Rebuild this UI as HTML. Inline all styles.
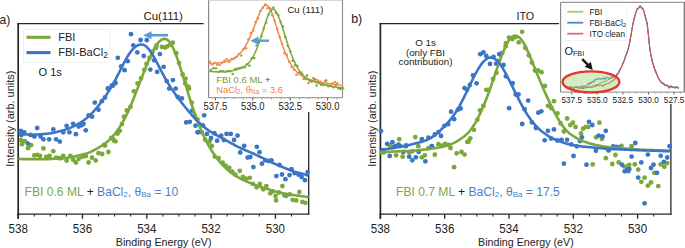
<!DOCTYPE html><html><head><meta charset="utf-8"><title>XPS O 1s</title><style>html,body{margin:0;padding:0;background:#fff;overflow:hidden;}svg{display:block;font-family:"Liberation Sans",sans-serif;}text{font-family:"Liberation Sans",sans-serif;}</style></head><body>
<svg width="685" height="248" viewBox="0 0 685 248" font-family="Liberation Sans, sans-serif">
<rect width="685" height="248" fill="#fff"/>
<line x1="18.2" y1="23" x2="18.2" y2="218.8" stroke="#262626" stroke-width="1.7"/>
<line x1="17.4" y1="23.6" x2="203.6" y2="23.6" stroke="#262626" stroke-width="1.3"/>
<line x1="17.4" y1="214.2" x2="309.3" y2="214.2" stroke="#262626" stroke-width="1.3"/>
<line x1="308.7" y1="112.0" x2="308.7" y2="214.8" stroke="#262626" stroke-width="1.3"/>
<line x1="18.2" y1="214" x2="18.2" y2="218.8" stroke="#262626" stroke-width="1.3"/>
<text x="18.2" y="233.2" font-size="12.50" fill="#222" text-anchor="middle" textLength="19.3" lengthAdjust="spacingAndGlyphs">538</text>
<line x1="34.3" y1="214" x2="34.3" y2="216.6" stroke="#262626" stroke-width="1"/>
<line x1="50.3" y1="214" x2="50.3" y2="216.6" stroke="#262626" stroke-width="1"/>
<line x1="66.4" y1="214" x2="66.4" y2="216.6" stroke="#262626" stroke-width="1"/>
<line x1="82.5" y1="214" x2="82.5" y2="218.8" stroke="#262626" stroke-width="1.3"/>
<text x="82.5" y="233.2" font-size="12.50" fill="#222" text-anchor="middle" textLength="19.3" lengthAdjust="spacingAndGlyphs">536</text>
<line x1="98.6" y1="214" x2="98.6" y2="216.6" stroke="#262626" stroke-width="1"/>
<line x1="114.6" y1="214" x2="114.6" y2="216.6" stroke="#262626" stroke-width="1"/>
<line x1="130.7" y1="214" x2="130.7" y2="216.6" stroke="#262626" stroke-width="1"/>
<line x1="146.8" y1="214" x2="146.8" y2="218.8" stroke="#262626" stroke-width="1.3"/>
<text x="146.8" y="233.2" font-size="12.50" fill="#222" text-anchor="middle" textLength="19.3" lengthAdjust="spacingAndGlyphs">534</text>
<line x1="162.9" y1="214" x2="162.9" y2="216.6" stroke="#262626" stroke-width="1"/>
<line x1="178.9" y1="214" x2="178.9" y2="216.6" stroke="#262626" stroke-width="1"/>
<line x1="195.0" y1="214" x2="195.0" y2="216.6" stroke="#262626" stroke-width="1"/>
<line x1="211.1" y1="214" x2="211.1" y2="218.8" stroke="#262626" stroke-width="1.3"/>
<text x="211.1" y="233.2" font-size="12.50" fill="#222" text-anchor="middle" textLength="19.3" lengthAdjust="spacingAndGlyphs">532</text>
<line x1="227.2" y1="214" x2="227.2" y2="216.6" stroke="#262626" stroke-width="1"/>
<line x1="243.2" y1="214" x2="243.2" y2="216.6" stroke="#262626" stroke-width="1"/>
<line x1="259.3" y1="214" x2="259.3" y2="216.6" stroke="#262626" stroke-width="1"/>
<line x1="275.4" y1="214" x2="275.4" y2="218.8" stroke="#262626" stroke-width="1.3"/>
<text x="275.4" y="233.2" font-size="12.50" fill="#222" text-anchor="middle" textLength="19.3" lengthAdjust="spacingAndGlyphs">530</text>
<line x1="291.5" y1="214" x2="291.5" y2="216.6" stroke="#262626" stroke-width="1"/>
<text x="163.7" y="245.5" font-size="10.70" fill="#222" text-anchor="middle">Binding Energy (eV)</text>
<text x="0" y="0" font-size="10.95" fill="#222" text-anchor="middle" transform="translate(13.6,118.7) rotate(-90)">Intensity (arb. units)</text>
<text x="-0.6" y="23.5" font-size="12.20" fill="#222" text-anchor="start">a)</text>
<text x="163.2" y="20.2" font-size="11.40" fill="#222" text-anchor="middle">Cu(111)</text>
<rect x="23.5" y="29" width="86.5" height="33.4" fill="#fff" stroke="#ececec" stroke-width="0.8" rx="1"/>
<line x1="26.5" y1="37.3" x2="50.5" y2="37.3" stroke="#7aa83a" stroke-width="3.1"/>
<line x1="26.5" y1="52.6" x2="50.5" y2="52.6" stroke="#3b75c6" stroke-width="3.1"/>
<text x="58.2" y="41.2" font-size="11.10" fill="#222" text-anchor="start">FBI</text>
<text x="58.2" y="56.2" font-size="11.10" fill="#222" text-anchor="start">FBI-BaCl<tspan font-size="8.4" dy="1.8">2</tspan></text>
<text x="38.6" y="75.8" font-size="11.00" fill="#222" text-anchor="start">O 1s</text>
<g fill="#7aa83a"><circle cx="61.1" cy="158.2" r="2.40"/><circle cx="121.9" cy="124.1" r="2.40"/><circle cx="141.1" cy="78.2" r="2.40"/><circle cx="144.3" cy="69.8" r="2.40"/><circle cx="201.9" cy="132.4" r="2.40"/><circle cx="205.1" cy="139.6" r="2.40"/><circle cx="156.5" cy="45.7" r="2.40"/><circle cx="155.9" cy="48.1" r="2.40"/><circle cx="161.9" cy="46.9" r="2.40"/><circle cx="165.0" cy="47.5" r="2.40"/><circle cx="167.4" cy="46.3" r="2.40"/><circle cx="170.4" cy="44.5" r="2.40"/><circle cx="152.5" cy="52.0" r="2.40"/><circle cx="149.5" cy="58.0" r="2.40"/><circle cx="146.5" cy="64.0" r="2.40"/><circle cx="21.0" cy="140.2" r="2.40"/><circle cx="25.0" cy="141.2" r="2.40"/><circle cx="22.0" cy="144.2" r="2.40"/><circle cx="28.0" cy="148.2" r="2.40"/><circle cx="31.1" cy="145.2" r="2.40"/><circle cx="34.4" cy="155.4" r="2.40"/><circle cx="37.2" cy="154.9" r="2.40"/><circle cx="40.0" cy="156.0" r="2.40"/><circle cx="43.4" cy="148.4" r="2.40"/><circle cx="46.2" cy="156.8" r="2.40"/><circle cx="49.6" cy="156.0" r="2.40"/><circle cx="53.3" cy="151.2" r="2.40"/><circle cx="56.1" cy="157.7" r="2.40"/><circle cx="59.0" cy="158.2" r="2.40"/><circle cx="63.2" cy="156.0" r="2.40"/><circle cx="66.6" cy="160.5" r="2.40"/><circle cx="70.3" cy="156.0" r="2.40"/><circle cx="73.1" cy="159.7" r="2.40"/><circle cx="75.9" cy="162.5" r="2.40"/><circle cx="78.7" cy="158.8" r="2.40"/><circle cx="82.4" cy="156.8" r="2.40"/><circle cx="85.8" cy="156.0" r="2.40"/><circle cx="88.6" cy="162.5" r="2.40"/><circle cx="92.0" cy="157.7" r="2.40"/><circle cx="95.7" cy="160.5" r="2.40"/><circle cx="98.5" cy="153.2" r="2.40"/><circle cx="102.2" cy="154.0" r="2.40"/><circle cx="105.0" cy="145.5" r="2.40"/><circle cx="108.4" cy="152.0" r="2.40"/><circle cx="112.6" cy="138.5" r="2.40"/><circle cx="115.5" cy="141.3" r="2.40"/><circle cx="137.6" cy="83.4" r="2.40"/><circle cx="133.9" cy="91.3" r="2.40"/><circle cx="130.5" cy="106.8" r="2.40"/><circle cx="126.8" cy="110.5" r="2.40"/><circle cx="124.0" cy="116.7" r="2.40"/><circle cx="119.8" cy="130.8" r="2.40"/><circle cx="117.5" cy="133.7" r="2.40"/><circle cx="111.3" cy="137.9" r="2.40"/><circle cx="114.1" cy="140.7" r="2.40"/><circle cx="104.2" cy="145.0" r="2.40"/><circle cx="185.3" cy="83.4" r="2.40"/><circle cx="189.0" cy="88.5" r="2.40"/><circle cx="191.8" cy="102.6" r="2.40"/><circle cx="194.6" cy="115.3" r="2.40"/><circle cx="197.5" cy="119.5" r="2.40"/><circle cx="172.8" cy="42.7" r="2.40"/><circle cx="176.2" cy="53.2" r="2.40"/><circle cx="179.0" cy="63.1" r="2.40"/><circle cx="182.7" cy="74.4" r="2.40"/><circle cx="185.5" cy="78.7" r="2.40"/><circle cx="188.4" cy="86.6" r="2.40"/><circle cx="209.6" cy="141.5" r="2.40"/><circle cx="211.8" cy="146.0" r="2.40"/><circle cx="214.8" cy="156.6" r="2.40"/><circle cx="218.7" cy="158.1" r="2.40"/><circle cx="222.6" cy="162.7" r="2.40"/><circle cx="225.6" cy="165.7" r="2.40"/><circle cx="229.3" cy="167.8" r="2.40"/><circle cx="232.3" cy="171.7" r="2.40"/><circle cx="235.3" cy="174.7" r="2.40"/><circle cx="239.8" cy="170.8" r="2.40"/><circle cx="242.9" cy="176.9" r="2.40"/><circle cx="245.9" cy="178.7" r="2.40"/><circle cx="249.8" cy="177.8" r="2.40"/><circle cx="252.8" cy="183.8" r="2.40"/><circle cx="286.1" cy="195.9" r="2.40"/><circle cx="289.7" cy="194.4" r="2.40"/><circle cx="292.7" cy="199.8" r="2.40"/><circle cx="296.3" cy="200.4" r="2.40"/><circle cx="299.4" cy="192.0" r="2.40"/><circle cx="302.4" cy="201.9" r="2.40"/><circle cx="305.4" cy="202.8" r="2.40"/><circle cx="259.8" cy="184.0" r="2.40"/><circle cx="266.3" cy="186.1" r="2.40"/><circle cx="256.6" cy="187.3" r="2.40"/><circle cx="263.1" cy="189.3" r="2.40"/><circle cx="270.3" cy="193.3" r="2.40"/><circle cx="272.7" cy="191.3" r="2.40"/><circle cx="278.8" cy="192.5" r="2.40"/><circle cx="282.4" cy="186.1" r="2.40"/><circle cx="284.4" cy="195.3" r="2.40"/><circle cx="275.6" cy="196.0" r="2.40"/><circle cx="276.1" cy="200.4" r="2.40"/></g>
<g fill="#3b75c6"><circle cx="157.1" cy="71.9" r="2.40"/><circle cx="166.7" cy="81.1" r="2.40"/><circle cx="192.3" cy="110.6" r="2.40"/><circle cx="195.5" cy="125.7" r="2.40"/><circle cx="259.5" cy="152.2" r="2.40"/><circle cx="291.5" cy="169.2" r="2.40"/><circle cx="131.0" cy="34.2" r="2.40"/><circle cx="140.6" cy="40.0" r="2.40"/><circle cx="146.8" cy="40.2" r="2.40"/><circle cx="133.3" cy="45.3" r="2.40"/><circle cx="137.3" cy="52.4" r="2.40"/><circle cx="143.8" cy="56.0" r="2.40"/><circle cx="117.8" cy="57.8" r="2.40"/><circle cx="127.7" cy="61.2" r="2.40"/><circle cx="121.2" cy="66.5" r="2.40"/><circle cx="124.6" cy="70.2" r="2.40"/><circle cx="159.9" cy="54.1" r="2.40"/><circle cx="154.2" cy="60.3" r="2.40"/><circle cx="163.6" cy="66.8" r="2.40"/><circle cx="150.3" cy="69.6" r="2.40"/><circle cx="115.5" cy="82.9" r="2.40"/><circle cx="112.7" cy="85.7" r="2.40"/><circle cx="108.5" cy="88.6" r="2.40"/><circle cx="172.9" cy="80.1" r="2.40"/><circle cx="169.2" cy="88.6" r="2.40"/><circle cx="175.7" cy="88.6" r="2.40"/><circle cx="20.8" cy="130.8" r="2.40"/><circle cx="24.2" cy="132.3" r="2.40"/><circle cx="21.4" cy="135.0" r="2.40"/><circle cx="30.7" cy="135.0" r="2.40"/><circle cx="37.2" cy="128.0" r="2.40"/><circle cx="34.4" cy="136.5" r="2.40"/><circle cx="40.6" cy="136.5" r="2.40"/><circle cx="43.4" cy="139.3" r="2.40"/><circle cx="27.9" cy="143.6" r="2.40"/><circle cx="49.1" cy="139.3" r="2.40"/><circle cx="53.3" cy="129.4" r="2.40"/><circle cx="56.1" cy="139.3" r="2.40"/><circle cx="59.8" cy="141.6" r="2.40"/><circle cx="63.2" cy="132.3" r="2.40"/><circle cx="66.6" cy="125.8" r="2.40"/><circle cx="69.4" cy="132.3" r="2.40"/><circle cx="73.1" cy="123.8" r="2.40"/><circle cx="75.9" cy="134.2" r="2.40"/><circle cx="78.7" cy="126.6" r="2.40"/><circle cx="81.6" cy="125.2" r="2.40"/><circle cx="85.8" cy="130.3" r="2.40"/><circle cx="83.5" cy="123.8" r="2.40"/><circle cx="88.6" cy="115.3" r="2.40"/><circle cx="92.0" cy="116.7" r="2.40"/><circle cx="94.8" cy="102.6" r="2.40"/><circle cx="98.5" cy="109.7" r="2.40"/><circle cx="101.9" cy="101.2" r="2.40"/><circle cx="105.0" cy="97.5" r="2.40"/><circle cx="107.8" cy="88.5" r="2.40"/><circle cx="111.8" cy="85.6" r="2.40"/><circle cx="114.9" cy="83.4" r="2.40"/><circle cx="177.7" cy="97.0" r="2.40"/><circle cx="181.9" cy="98.4" r="2.40"/><circle cx="186.2" cy="122.4" r="2.40"/><circle cx="189.8" cy="121.8" r="2.40"/><circle cx="197.5" cy="132.3" r="2.40"/><circle cx="204.2" cy="115.3" r="2.40"/><circle cx="198.5" cy="132.2" r="2.40"/><circle cx="202.9" cy="125.4" r="2.40"/><circle cx="207.0" cy="133.9" r="2.40"/><circle cx="211.0" cy="138.0" r="2.40"/><circle cx="214.4" cy="133.2" r="2.40"/><circle cx="217.1" cy="140.7" r="2.40"/><circle cx="221.2" cy="135.6" r="2.40"/><circle cx="223.9" cy="140.0" r="2.40"/><circle cx="226.6" cy="133.9" r="2.40"/><circle cx="230.7" cy="133.9" r="2.40"/><circle cx="234.1" cy="140.0" r="2.40"/><circle cx="237.5" cy="135.6" r="2.40"/><circle cx="240.2" cy="152.5" r="2.40"/><circle cx="244.2" cy="145.8" r="2.40"/><circle cx="247.6" cy="157.6" r="2.40"/><circle cx="250.3" cy="157.0" r="2.40"/><circle cx="253.4" cy="167.1" r="2.40"/><circle cx="256.8" cy="146.8" r="2.40"/><circle cx="261.9" cy="163.7" r="2.40"/><circle cx="265.3" cy="160.3" r="2.40"/><circle cx="268.6" cy="161.0" r="2.40"/><circle cx="271.4" cy="160.3" r="2.40"/><circle cx="276.4" cy="176.1" r="2.40"/><circle cx="282.0" cy="174.5" r="2.40"/><circle cx="285.4" cy="179.2" r="2.40"/><circle cx="289.5" cy="175.1" r="2.40"/><circle cx="294.5" cy="173.1" r="2.40"/><circle cx="298.5" cy="174.5" r="2.40"/><circle cx="301.6" cy="177.1" r="2.40"/><circle cx="305.0" cy="180.2" r="2.40"/><circle cx="307.6" cy="172.1" r="2.40"/><circle cx="279.4" cy="165.0" r="2.40"/></g>
<path d="M18.50,158.96 L19.50,159.00 L20.50,159.04 L21.50,159.07 L22.50,159.09 L23.50,159.11 L24.50,159.13 L25.50,159.13 L26.50,159.13 L27.50,159.12 L28.50,159.12 L29.50,159.11 L30.50,159.11 L31.50,159.11 L32.50,159.12 L33.50,159.13 L34.50,159.15 L35.50,159.17 L36.50,159.18 L37.50,159.20 L38.50,159.21 L39.50,159.22 L40.50,159.22 L41.50,159.22 L42.50,159.22 L43.50,159.21 L44.50,159.20 L45.50,159.19 L46.50,159.16 L47.50,159.12 L48.50,159.08 L49.50,159.03 L50.50,158.97 L51.50,158.90 L52.50,158.84 L53.50,158.78 L54.50,158.73 L55.50,158.67 L56.50,158.61 L57.50,158.56 L58.50,158.50 L59.50,158.44 L60.50,158.37 L61.50,158.30 L62.50,158.23 L63.50,158.15 L64.50,158.06 L65.50,157.96 L66.50,157.85 L67.50,157.73 L68.50,157.58 L69.50,157.41 L70.50,157.23 L71.50,157.03 L72.50,156.82 L73.50,156.61 L74.50,156.40 L75.50,156.19 L76.50,155.98 L77.50,155.77 L78.50,155.55 L79.50,155.32 L80.50,155.09 L81.50,154.84 L82.50,154.59 L83.50,154.33 L84.50,154.05 L85.50,153.76 L86.50,153.45 L87.50,153.12 L88.50,152.76 L89.50,152.37 L90.50,151.95 L91.50,151.49 L92.50,151.00 L93.50,150.50 L94.50,149.97 L95.50,149.43 L96.50,148.87 L97.50,148.30 L98.50,147.72 L99.50,147.12 L100.50,146.51 L101.50,145.88 L102.50,145.24 L103.50,144.57 L104.50,143.87 L105.50,143.14 L106.50,142.36 L107.50,141.54 L108.50,140.66 L109.50,139.73 L110.50,138.74 L111.50,137.69 L112.50,136.59 L113.50,135.43 L114.50,134.23 L115.50,132.97 L116.50,131.65 L117.50,130.29 L118.50,128.86 L119.50,127.38 L120.50,125.83 L121.50,124.21 L122.50,122.52 L123.50,120.75 L124.50,118.90 L125.50,116.97 L126.50,114.95 L127.50,112.85 L128.50,110.66 L129.50,108.40 L130.50,106.07 L131.50,103.67 L132.50,101.22 L133.50,98.73 L134.50,96.20 L135.50,93.65 L136.50,91.09 L137.50,88.52 L138.50,85.94 L139.50,83.36 L140.50,80.79 L141.50,78.22 L142.50,75.66 L143.50,73.11 L144.50,70.59 L145.50,68.08 L146.50,65.61 L147.50,63.18 L148.50,60.79 L149.50,58.47 L150.50,56.21 L151.50,54.04 L152.50,51.97 L153.50,50.02 L154.50,48.18 L155.50,46.49 L156.50,44.95 L157.50,43.57 L158.50,42.35 L159.50,41.31 L160.50,40.46 L161.50,39.79 L162.50,39.30 L163.50,39.01 L164.50,38.91 L165.50,39.01 L166.50,39.35 L167.50,39.96 L168.50,40.82 L169.50,41.94 L170.50,43.32 L171.50,44.94 L172.50,46.80 L173.50,48.89 L174.50,51.18 L175.50,53.66 L176.50,56.31 L177.50,59.11 L178.50,62.04 L179.50,65.07 L180.50,68.19 L181.50,71.38 L182.50,74.62 L183.50,77.90 L184.50,81.20 L185.50,84.51 L186.50,87.82 L187.50,91.11 L188.50,94.38 L189.50,97.61 L190.50,100.79 L191.50,103.92 L192.50,106.99 L193.50,109.98 L194.50,112.91 L195.50,115.75 L196.50,118.52 L197.50,121.20 L198.50,123.80 L199.50,126.31 L200.50,128.74 L201.50,131.09 L202.50,133.36 L203.50,135.55 L204.50,137.66 L205.50,139.70 L206.50,141.66 L207.50,143.55 L208.50,145.36 L209.50,147.11 L210.50,148.79 L211.50,150.41 L212.50,151.97 L213.50,153.48 L214.50,154.93 L215.50,156.33 L216.50,157.68 L217.50,158.98 L218.50,160.24 L219.50,161.45 L220.50,162.63 L221.50,163.76 L222.50,164.84 L223.50,165.89 L224.50,166.89 L225.50,167.86 L226.50,168.79 L227.50,169.68 L228.50,170.54 L229.50,171.37 L230.50,172.16 L231.50,172.92 L232.50,173.66 L233.50,174.36 L234.50,175.03 L235.50,175.68 L236.50,176.30 L237.50,176.89 L238.50,177.47 L239.50,178.02 L240.50,178.56 L241.50,179.08 L242.50,179.58 L243.50,180.06 L244.50,180.53 L245.50,180.99 L246.50,181.44 L247.50,181.87 L248.50,182.30 L249.50,182.72 L250.50,183.14 L251.50,183.55 L252.50,183.96 L253.50,184.35 L254.50,184.74 L255.50,185.13 L256.50,185.50 L257.50,185.86 L258.50,186.21 L259.50,186.55 L260.50,186.87 L261.50,187.19 L262.50,187.50 L263.50,187.80 L264.50,188.10 L265.50,188.39 L266.50,188.69 L267.50,188.98 L268.50,189.29 L269.50,189.60 L270.50,189.92 L271.50,190.24 L272.50,190.56 L273.50,190.86 L274.50,191.16 L275.50,191.44 L276.50,191.70 L277.50,191.96 L278.50,192.21 L279.50,192.44 L280.50,192.67 L281.50,192.88 L282.50,193.09 L283.50,193.29 L284.50,193.48 L285.50,193.66 L286.50,193.83 L287.50,193.99 L288.50,194.16 L289.50,194.32 L290.50,194.49 L291.50,194.66 L292.50,194.83 L293.50,195.00 L294.50,195.18 L295.50,195.34 L296.50,195.51 L297.50,195.66 L298.50,195.81 L299.50,195.95 L300.50,196.08 L301.50,196.20 L302.50,196.32 L303.50,196.45 L304.50,196.58 L305.50,196.71 L306.50,196.85 L307.50,197.00 L308.50,197.16" fill="none" stroke="#7aa83a" stroke-width="2.6" stroke-linejoin="round"/>
<path d="M18.50,134.09 L19.50,134.18 L20.50,134.26 L21.50,134.33 L22.50,134.39 L23.50,134.43 L24.50,134.47 L25.50,134.51 L26.50,134.54 L27.50,134.57 L28.50,134.60 L29.50,134.63 L30.50,134.66 L31.50,134.67 L32.50,134.68 L33.50,134.68 L34.50,134.66 L35.50,134.63 L36.50,134.57 L37.50,134.51 L38.50,134.44 L39.50,134.36 L40.50,134.28 L41.50,134.20 L42.50,134.13 L43.50,134.05 L44.50,133.98 L45.50,133.89 L46.50,133.80 L47.50,133.70 L48.50,133.58 L49.50,133.44 L50.50,133.29 L51.50,133.12 L52.50,132.93 L53.50,132.72 L54.50,132.51 L55.50,132.28 L56.50,132.05 L57.50,131.81 L58.50,131.57 L59.50,131.33 L60.50,131.07 L61.50,130.81 L62.50,130.54 L63.50,130.25 L64.50,129.95 L65.50,129.63 L66.50,129.30 L67.50,128.94 L68.50,128.57 L69.50,128.17 L70.50,127.76 L71.50,127.32 L72.50,126.87 L73.50,126.39 L74.50,125.90 L75.50,125.39 L76.50,124.87 L77.50,124.32 L78.50,123.75 L79.50,123.16 L80.50,122.55 L81.50,121.91 L82.50,121.23 L83.50,120.53 L84.50,119.79 L85.50,119.02 L86.50,118.22 L87.50,117.37 L88.50,116.49 L89.50,115.57 L90.50,114.62 L91.50,113.62 L92.50,112.59 L93.50,111.51 L94.50,110.40 L95.50,109.26 L96.50,108.08 L97.50,106.86 L98.50,105.62 L99.50,104.34 L100.50,103.04 L101.50,101.71 L102.50,100.36 L103.50,98.98 L104.50,97.57 L105.50,96.13 L106.50,94.66 L107.50,93.15 L108.50,91.60 L109.50,90.01 L110.50,88.37 L111.50,86.69 L112.50,84.96 L113.50,83.19 L114.50,81.37 L115.50,79.51 L116.50,77.62 L117.50,75.69 L118.50,73.73 L119.50,71.75 L120.50,69.75 L121.50,67.76 L122.50,65.77 L123.50,63.81 L124.50,61.90 L125.50,60.04 L126.50,58.25 L127.50,56.55 L128.50,54.94 L129.50,53.43 L130.50,52.03 L131.50,50.74 L132.50,49.56 L133.50,48.50 L134.50,47.56 L135.50,46.73 L136.50,46.03 L137.50,45.45 L138.50,44.99 L139.50,44.65 L140.50,44.45 L141.50,44.43 L142.50,44.58 L143.50,44.90 L144.50,45.38 L145.50,46.02 L146.50,46.82 L147.50,47.77 L148.50,48.88 L149.50,50.12 L150.50,51.49 L151.50,52.99 L152.50,54.59 L153.50,56.29 L154.50,58.07 L155.50,59.92 L156.50,61.82 L157.50,63.75 L158.50,65.70 L159.50,67.65 L160.50,69.58 L161.50,71.50 L162.50,73.39 L163.50,75.24 L164.50,77.05 L165.50,78.83 L166.50,80.56 L167.50,82.25 L168.50,83.91 L169.50,85.52 L170.50,87.10 L171.50,88.64 L172.50,90.15 L173.50,91.63 L174.50,93.07 L175.50,94.48 L176.50,95.87 L177.50,97.23 L178.50,98.56 L179.50,99.87 L180.50,101.17 L181.50,102.45 L182.50,103.72 L183.50,104.97 L184.50,106.22 L185.50,107.47 L186.50,108.70 L187.50,109.93 L188.50,111.14 L189.50,112.34 L190.50,113.52 L191.50,114.68 L192.50,115.82 L193.50,116.93 L194.50,118.02 L195.50,119.08 L196.50,120.11 L197.50,121.11 L198.50,122.08 L199.50,123.02 L200.50,123.94 L201.50,124.83 L202.50,125.69 L203.50,126.53 L204.50,127.34 L205.50,128.13 L206.50,128.88 L207.50,129.61 L208.50,130.32 L209.50,130.99 L210.50,131.64 L211.50,132.26 L212.50,132.86 L213.50,133.45 L214.50,134.03 L215.50,134.60 L216.50,135.17 L217.50,135.73 L218.50,136.30 L219.50,136.85 L220.50,137.41 L221.50,137.96 L222.50,138.50 L223.50,139.05 L224.50,139.58 L225.50,140.12 L226.50,140.65 L227.50,141.19 L228.50,141.73 L229.50,142.27 L230.50,142.82 L231.50,143.37 L232.50,143.92 L233.50,144.47 L234.50,145.01 L235.50,145.55 L236.50,146.07 L237.50,146.58 L238.50,147.08 L239.50,147.56 L240.50,148.02 L241.50,148.47 L242.50,148.91 L243.50,149.34 L244.50,149.77 L245.50,150.19 L246.50,150.62 L247.50,151.04 L248.50,151.47 L249.50,151.91 L250.50,152.35 L251.50,152.80 L252.50,153.26 L253.50,153.72 L254.50,154.19 L255.50,154.66 L256.50,155.13 L257.50,155.60 L258.50,156.06 L259.50,156.53 L260.50,156.99 L261.50,157.46 L262.50,157.93 L263.50,158.41 L264.50,158.90 L265.50,159.41 L266.50,159.92 L267.50,160.43 L268.50,160.94 L269.50,161.45 L270.50,161.94 L271.50,162.41 L272.50,162.87 L273.50,163.31 L274.50,163.74 L275.50,164.16 L276.50,164.58 L277.50,164.99 L278.50,165.40 L279.50,165.81 L280.50,166.22 L281.50,166.64 L282.50,167.05 L283.50,167.48 L284.50,167.90 L285.50,168.32 L286.50,168.73 L287.50,169.13 L288.50,169.53 L289.50,169.92 L290.50,170.31 L291.50,170.68 L292.50,171.03 L293.50,171.38 L294.50,171.70 L295.50,172.00 L296.50,172.28 L297.50,172.54 L298.50,172.77 L299.50,173.00 L300.50,173.23 L301.50,173.48 L302.50,173.76 L303.50,174.06 L304.50,174.38 L305.50,174.72 L306.50,175.07 L307.50,175.43 L308.50,175.80" fill="none" stroke="#3b75c6" stroke-width="2.6" stroke-linejoin="round"/>
<line x1="168" y1="35.2" x2="149" y2="35.2" stroke="#5b9bd5" stroke-width="2.6"/>
<polygon points="143,35.2 151.5,31.2 151.5,39.2" fill="#5b9bd5"/>
<text x="24.6" y="195.5" font-size="12.10" fill="#222" text-anchor="start"><tspan fill="#80a845">FBI 0.6 ML</tspan> + <tspan fill="#4a7fcc">BaCl<tspan font-size="8.0" dy="1.6">2</tspan><tspan dy="-1.6">, θ</tspan><tspan font-size="8.0" dy="1.6">Ba</tspan><tspan dy="-1.6"> = 10</tspan></tspan></text>
<rect x="208.6" y="0" width="134" height="97.6" fill="#fff"/>
<line x1="208.6" y1="0" x2="208.6" y2="98" stroke="#8a8a8a" stroke-width="1.2"/>
<line x1="208.6" y1="0.5" x2="342.5" y2="0.5" stroke="#d8d8d8" stroke-width="1"/>
<line x1="342.5" y1="0" x2="342.5" y2="97.6" stroke="#8c8c8c" stroke-width="1.1"/>
<line x1="208.6" y1="97.6" x2="342.5" y2="97.6" stroke="#a0a0a0" stroke-width="1.1"/>
<line x1="215.4" y1="97.6" x2="215.4" y2="100.6" stroke="#606060" stroke-width="1"/>
<text x="215.4" y="109.6" font-size="10.00" fill="#222" text-anchor="middle" textLength="23.6" lengthAdjust="spacingAndGlyphs">537.5</text>
<line x1="224.8" y1="97.6" x2="224.8" y2="99.4" stroke="#909090" stroke-width="0.8"/>
<line x1="234.1" y1="97.6" x2="234.1" y2="99.4" stroke="#909090" stroke-width="0.8"/>
<line x1="243.4" y1="97.6" x2="243.4" y2="99.4" stroke="#909090" stroke-width="0.8"/>
<line x1="252.8" y1="97.6" x2="252.8" y2="100.6" stroke="#606060" stroke-width="1"/>
<text x="252.8" y="109.6" font-size="10.00" fill="#222" text-anchor="middle" textLength="23.6" lengthAdjust="spacingAndGlyphs">535.0</text>
<line x1="262.1" y1="97.6" x2="262.1" y2="99.4" stroke="#909090" stroke-width="0.8"/>
<line x1="271.5" y1="97.6" x2="271.5" y2="99.4" stroke="#909090" stroke-width="0.8"/>
<line x1="280.9" y1="97.6" x2="280.9" y2="99.4" stroke="#909090" stroke-width="0.8"/>
<line x1="290.2" y1="97.6" x2="290.2" y2="100.6" stroke="#606060" stroke-width="1"/>
<text x="290.2" y="109.6" font-size="10.00" fill="#222" text-anchor="middle" textLength="23.6" lengthAdjust="spacingAndGlyphs">532.5</text>
<line x1="299.6" y1="97.6" x2="299.6" y2="99.4" stroke="#909090" stroke-width="0.8"/>
<line x1="308.9" y1="97.6" x2="308.9" y2="99.4" stroke="#909090" stroke-width="0.8"/>
<line x1="318.2" y1="97.6" x2="318.2" y2="99.4" stroke="#909090" stroke-width="0.8"/>
<line x1="327.6" y1="97.6" x2="327.6" y2="100.6" stroke="#606060" stroke-width="1"/>
<text x="327.6" y="109.6" font-size="10.00" fill="#222" text-anchor="middle" textLength="23.6" lengthAdjust="spacingAndGlyphs">530.0</text>
<line x1="336.9" y1="97.6" x2="336.9" y2="99.4" stroke="#909090" stroke-width="0.8"/>
<text x="305.4" y="12.8" font-size="9.60" fill="#222" text-anchor="middle">Cu (111)</text>
<g fill="#f08a4b"><circle cx="210.0" cy="61.8" r="1.25"/><circle cx="212.4" cy="64.6" r="1.25"/><circle cx="214.8" cy="63.1" r="1.25"/><circle cx="217.2" cy="64.8" r="1.25"/><circle cx="219.6" cy="64.9" r="1.25"/><circle cx="222.0" cy="63.0" r="1.25"/><circle cx="224.4" cy="60.7" r="1.25"/><circle cx="226.8" cy="59.3" r="1.25"/><circle cx="229.2" cy="61.7" r="1.25"/><circle cx="231.6" cy="59.0" r="1.25"/><circle cx="234.0" cy="58.5" r="1.25"/><circle cx="236.4" cy="57.0" r="1.25"/><circle cx="238.8" cy="54.1" r="1.25"/><circle cx="241.2" cy="55.4" r="1.25"/><circle cx="243.6" cy="49.2" r="1.25"/><circle cx="246.0" cy="48.3" r="1.25"/><circle cx="248.4" cy="39.5" r="1.25"/><circle cx="250.8" cy="32.9" r="1.25"/><circle cx="253.2" cy="30.5" r="1.25"/><circle cx="255.6" cy="21.7" r="1.25"/><circle cx="258.0" cy="18.2" r="1.25"/><circle cx="260.4" cy="11.0" r="1.25"/><circle cx="262.8" cy="7.8" r="1.25"/><circle cx="265.2" cy="4.6" r="1.25"/><circle cx="267.6" cy="8.2" r="1.25"/><circle cx="270.0" cy="8.3" r="1.25"/><circle cx="272.4" cy="15.2" r="1.25"/><circle cx="274.8" cy="20.7" r="1.25"/><circle cx="277.2" cy="28.9" r="1.25"/><circle cx="279.6" cy="37.0" r="1.25"/><circle cx="282.0" cy="43.9" r="1.25"/><circle cx="284.4" cy="53.2" r="1.25"/><circle cx="286.8" cy="54.8" r="1.25"/><circle cx="289.2" cy="61.7" r="1.25"/><circle cx="291.6" cy="67.0" r="1.25"/><circle cx="294.0" cy="69.7" r="1.25"/><circle cx="296.4" cy="75.0" r="1.25"/><circle cx="298.8" cy="72.9" r="1.25"/><circle cx="301.2" cy="72.8" r="1.25"/><circle cx="303.6" cy="79.1" r="1.25"/><circle cx="306.0" cy="79.1" r="1.25"/><circle cx="308.4" cy="82.9" r="1.25"/><circle cx="310.8" cy="81.2" r="1.25"/><circle cx="313.2" cy="77.9" r="1.25"/><circle cx="315.6" cy="79.3" r="1.25"/><circle cx="318.0" cy="80.4" r="1.25"/><circle cx="320.4" cy="81.8" r="1.25"/><circle cx="322.8" cy="83.5" r="1.25"/><circle cx="325.2" cy="81.1" r="1.25"/><circle cx="327.6" cy="83.7" r="1.25"/><circle cx="330.0" cy="85.8" r="1.25"/><circle cx="332.4" cy="83.2" r="1.25"/><circle cx="334.8" cy="82.0" r="1.25"/><circle cx="337.2" cy="83.2" r="1.25"/><circle cx="339.6" cy="88.4" r="1.25"/><circle cx="342.0" cy="87.0" r="1.25"/></g>
<g fill="#7aa83a"><circle cx="211.0" cy="69.9" r="1.25"/><circle cx="213.4" cy="68.2" r="1.25"/><circle cx="215.8" cy="68.3" r="1.25"/><circle cx="218.2" cy="72.0" r="1.25"/><circle cx="220.6" cy="71.0" r="1.25"/><circle cx="223.0" cy="71.3" r="1.25"/><circle cx="225.4" cy="71.8" r="1.25"/><circle cx="227.8" cy="70.9" r="1.25"/><circle cx="230.2" cy="71.2" r="1.25"/><circle cx="232.6" cy="73.9" r="1.25"/><circle cx="235.0" cy="69.2" r="1.25"/><circle cx="237.4" cy="68.6" r="1.25"/><circle cx="239.8" cy="68.1" r="1.25"/><circle cx="242.2" cy="67.6" r="1.25"/><circle cx="244.6" cy="67.3" r="1.25"/><circle cx="247.0" cy="64.2" r="1.25"/><circle cx="249.4" cy="65.8" r="1.25"/><circle cx="251.8" cy="58.3" r="1.25"/><circle cx="254.2" cy="58.0" r="1.25"/><circle cx="256.6" cy="45.5" r="1.25"/><circle cx="259.0" cy="42.0" r="1.25"/><circle cx="261.4" cy="36.3" r="1.25"/><circle cx="263.8" cy="28.5" r="1.25"/><circle cx="266.2" cy="22.6" r="1.25"/><circle cx="268.6" cy="14.4" r="1.25"/><circle cx="271.0" cy="11.2" r="1.25"/><circle cx="273.4" cy="7.5" r="1.25"/><circle cx="275.8" cy="12.9" r="1.25"/><circle cx="278.2" cy="15.3" r="1.25"/><circle cx="280.6" cy="22.0" r="1.25"/><circle cx="283.0" cy="26.4" r="1.25"/><circle cx="285.4" cy="37.2" r="1.25"/><circle cx="287.8" cy="45.8" r="1.25"/><circle cx="290.2" cy="51.3" r="1.25"/><circle cx="292.6" cy="60.8" r="1.25"/><circle cx="295.0" cy="65.3" r="1.25"/><circle cx="297.4" cy="65.9" r="1.25"/><circle cx="299.8" cy="72.4" r="1.25"/><circle cx="302.2" cy="73.9" r="1.25"/><circle cx="304.6" cy="78.2" r="1.25"/><circle cx="307.0" cy="75.5" r="1.25"/><circle cx="309.4" cy="80.5" r="1.25"/><circle cx="311.8" cy="81.5" r="1.25"/><circle cx="314.2" cy="79.5" r="1.25"/><circle cx="316.6" cy="85.4" r="1.25"/><circle cx="319.0" cy="82.9" r="1.25"/><circle cx="321.4" cy="84.9" r="1.25"/><circle cx="323.8" cy="85.1" r="1.25"/><circle cx="326.2" cy="80.5" r="1.25"/><circle cx="328.6" cy="86.2" r="1.25"/><circle cx="331.0" cy="86.1" r="1.25"/><circle cx="333.4" cy="87.3" r="1.25"/><circle cx="335.8" cy="85.5" r="1.25"/><circle cx="338.2" cy="87.9" r="1.25"/><circle cx="340.6" cy="88.9" r="1.25"/><circle cx="343.0" cy="88.2" r="1.25"/></g>
<path d="M209.20,63.76 L210.20,63.70 L211.20,63.62 L212.20,63.54 L213.20,63.45 L214.20,63.36 L215.20,63.26 L216.20,63.15 L217.20,63.03 L218.20,62.90 L219.20,62.77 L220.20,62.62 L221.20,62.46 L222.20,62.29 L223.20,62.11 L224.20,61.91 L225.20,61.69 L226.20,61.45 L227.20,61.19 L228.20,60.90 L229.20,60.57 L230.20,60.21 L231.20,59.80 L232.20,59.34 L233.20,58.83 L234.20,58.26 L235.20,57.63 L236.20,56.92 L237.20,56.14 L238.20,55.27 L239.20,54.31 L240.20,53.26 L241.20,52.11 L242.20,50.86 L243.20,49.49 L244.20,48.01 L245.20,46.41 L246.20,44.70 L247.20,42.85 L248.20,40.89 L249.20,38.80 L250.20,36.60 L251.20,34.29 L252.20,31.88 L253.20,29.40 L254.20,26.85 L255.20,24.27 L256.20,21.68 L257.20,19.11 L258.20,16.62 L259.20,14.23 L260.20,12.01 L261.20,10.00 L262.20,8.26 L263.20,6.86 L264.20,5.84 L265.20,5.25 L266.20,5.12 L267.20,5.47 L268.20,6.30 L269.20,7.61 L270.20,9.35 L271.20,11.47 L272.20,13.93 L273.20,16.65 L274.20,19.58 L275.20,22.65 L276.20,25.81 L277.20,29.01 L278.20,32.22 L279.20,35.39 L280.20,38.49 L281.20,41.52 L282.20,44.44 L283.20,47.25 L284.20,49.93 L285.20,52.47 L286.20,54.88 L287.20,57.13 L288.20,59.25 L289.20,61.22 L290.20,63.04 L291.20,64.73 L292.20,66.29 L293.20,67.72 L294.20,69.03 L295.20,70.24 L296.20,71.34 L297.20,72.34 L298.20,73.26 L299.20,74.10 L300.20,74.87 L301.20,75.57 L302.20,76.21 L303.20,76.80 L304.20,77.34 L305.20,77.83 L306.20,78.29 L307.20,78.71 L308.20,79.09 L309.20,79.45 L310.20,79.77 L311.20,80.08 L312.20,80.37 L313.20,80.64 L314.20,80.90 L315.20,81.14 L316.20,81.37 L317.20,81.59 L318.20,81.80 L319.20,82.01 L320.20,82.20 L321.20,82.39 L322.20,82.57 L323.20,82.75 L324.20,82.91 L325.20,83.08 L326.20,83.23 L327.20,83.39 L328.20,83.54 L329.20,83.68 L330.20,83.82 L331.20,83.96 L332.20,84.10 L333.20,84.24 L334.20,84.37 L335.20,84.51 L336.20,84.63 L337.20,84.76 L338.20,84.88 L339.20,85.00 L340.20,85.11 L341.20,85.22" fill="none" stroke="#f08a4b" stroke-width="1.5"/>
<path d="M209.20,71.54 L210.20,71.57 L211.20,71.59 L212.20,71.62 L213.20,71.64 L214.20,71.66 L215.20,71.68 L216.20,71.70 L217.20,71.71 L218.20,71.73 L219.20,71.74 L220.20,71.74 L221.20,71.75 L222.20,71.74 L223.20,71.72 L224.20,71.69 L225.20,71.64 L226.20,71.58 L227.20,71.49 L228.20,71.38 L229.20,71.26 L230.20,71.11 L231.20,70.94 L232.20,70.75 L233.20,70.53 L234.20,70.30 L235.20,70.05 L236.20,69.78 L237.20,69.49 L238.20,69.18 L239.20,68.83 L240.20,68.46 L241.20,68.05 L242.20,67.59 L243.20,67.09 L244.20,66.52 L245.20,65.88 L246.20,65.16 L247.20,64.34 L248.20,63.40 L249.20,62.33 L250.20,61.11 L251.20,59.73 L252.20,58.19 L253.20,56.46 L254.20,54.54 L255.20,52.44 L256.20,50.15 L257.20,47.68 L258.20,45.05 L259.20,42.25 L260.20,39.33 L261.20,36.28 L262.20,33.16 L263.20,29.98 L264.20,26.80 L265.20,23.67 L266.20,20.65 L267.20,17.81 L268.20,15.22 L269.20,12.97 L270.20,11.13 L271.20,9.80 L272.20,9.04 L273.20,8.91 L274.20,9.44 L275.20,10.46 L276.20,11.88 L277.20,13.68 L278.20,15.82 L279.20,18.25 L280.20,20.93 L281.20,23.80 L282.20,26.81 L283.20,29.92 L284.20,33.08 L285.20,36.24 L286.20,39.39 L287.20,42.48 L288.20,45.49 L289.20,48.42 L290.20,51.23 L291.20,53.92 L292.20,56.48 L293.20,58.90 L294.20,61.18 L295.20,63.31 L296.20,65.30 L297.20,67.14 L298.20,68.83 L299.20,70.39 L300.20,71.81 L301.20,73.10 L302.20,74.26 L303.20,75.31 L304.20,76.26 L305.20,77.10 L306.20,77.85 L307.20,78.51 L308.20,79.10 L309.20,79.62 L310.20,80.09 L311.20,80.52 L312.20,80.93 L313.20,81.30 L314.20,81.67 L315.20,82.02 L316.20,82.36 L317.20,82.69 L318.20,83.01 L319.20,83.33 L320.20,83.64 L321.20,83.94 L322.20,84.23 L323.20,84.51 L324.20,84.77 L325.20,85.02 L326.20,85.25 L327.20,85.48 L328.20,85.69 L329.20,85.89 L330.20,86.08 L331.20,86.26 L332.20,86.44 L333.20,86.62 L334.20,86.79 L335.20,86.96 L336.20,87.12 L337.20,87.28 L338.20,87.44 L339.20,87.59 L340.20,87.73 L341.20,87.87" fill="none" stroke="#7aa83a" stroke-width="1.5"/>
<line x1="269" y1="40.7" x2="256" y2="40.7" stroke="#5b9bd5" stroke-width="2.4"/>
<polygon points="250.5,40.7 258.5,36.6 258.5,44.8" fill="#5b9bd5"/>
<text x="216.2" y="83.0" font-size="9.50" fill="#222" text-anchor="start"><tspan fill="#74a03a">FBI 0.6 ML</tspan> <tspan fill="#444">+</tspan></text>
<text x="216.2" y="92.5" font-size="9.40" fill="#222" text-anchor="start"><tspan fill="#ee7f36">NaCl<tspan font-size="6.4" dy="1.4">2</tspan><tspan dy="-1.4">, θ</tspan><tspan font-size="6.4" dy="1.4">Na</tspan><tspan dy="-1.4"> = 3.6</tspan></tspan></text>
<line x1="380.4" y1="23" x2="380.4" y2="218.8" stroke="#262626" stroke-width="1.7"/>
<line x1="379.6" y1="23.6" x2="559.0" y2="23.6" stroke="#262626" stroke-width="1.3"/>
<line x1="379.6" y1="214.2" x2="671.5" y2="214.2" stroke="#262626" stroke-width="1.3"/>
<line x1="670.9" y1="104.0" x2="670.9" y2="214.8" stroke="#262626" stroke-width="1.3"/>
<line x1="380.4" y1="214" x2="380.4" y2="218.8" stroke="#262626" stroke-width="1.3"/>
<text x="380.4" y="233.2" font-size="12.50" fill="#222" text-anchor="middle" textLength="19.3" lengthAdjust="spacingAndGlyphs">538</text>
<line x1="396.5" y1="214" x2="396.5" y2="216.6" stroke="#262626" stroke-width="1"/>
<line x1="412.5" y1="214" x2="412.5" y2="216.6" stroke="#262626" stroke-width="1"/>
<line x1="428.6" y1="214" x2="428.6" y2="216.6" stroke="#262626" stroke-width="1"/>
<line x1="444.7" y1="214" x2="444.7" y2="218.8" stroke="#262626" stroke-width="1.3"/>
<text x="444.7" y="233.2" font-size="12.50" fill="#222" text-anchor="middle" textLength="19.3" lengthAdjust="spacingAndGlyphs">536</text>
<line x1="460.8" y1="214" x2="460.8" y2="216.6" stroke="#262626" stroke-width="1"/>
<line x1="476.8" y1="214" x2="476.8" y2="216.6" stroke="#262626" stroke-width="1"/>
<line x1="492.9" y1="214" x2="492.9" y2="216.6" stroke="#262626" stroke-width="1"/>
<line x1="509.0" y1="214" x2="509.0" y2="218.8" stroke="#262626" stroke-width="1.3"/>
<text x="509.0" y="233.2" font-size="12.50" fill="#222" text-anchor="middle" textLength="19.3" lengthAdjust="spacingAndGlyphs">534</text>
<line x1="525.1" y1="214" x2="525.1" y2="216.6" stroke="#262626" stroke-width="1"/>
<line x1="541.1" y1="214" x2="541.1" y2="216.6" stroke="#262626" stroke-width="1"/>
<line x1="557.2" y1="214" x2="557.2" y2="216.6" stroke="#262626" stroke-width="1"/>
<line x1="573.3" y1="214" x2="573.3" y2="218.8" stroke="#262626" stroke-width="1.3"/>
<text x="573.3" y="233.2" font-size="12.50" fill="#222" text-anchor="middle" textLength="19.3" lengthAdjust="spacingAndGlyphs">532</text>
<line x1="589.4" y1="214" x2="589.4" y2="216.6" stroke="#262626" stroke-width="1"/>
<line x1="605.4" y1="214" x2="605.4" y2="216.6" stroke="#262626" stroke-width="1"/>
<line x1="621.5" y1="214" x2="621.5" y2="216.6" stroke="#262626" stroke-width="1"/>
<line x1="637.6" y1="214" x2="637.6" y2="218.8" stroke="#262626" stroke-width="1.3"/>
<text x="637.6" y="233.2" font-size="12.50" fill="#222" text-anchor="middle" textLength="19.3" lengthAdjust="spacingAndGlyphs">530</text>
<line x1="653.7" y1="214" x2="653.7" y2="216.6" stroke="#262626" stroke-width="1"/>
<text x="525.9" y="245.5" font-size="10.70" fill="#222" text-anchor="middle">Binding Energy (eV)</text>
<text x="0" y="0" font-size="10.95" fill="#222" text-anchor="middle" transform="translate(375.8,118.7) rotate(-90)">Intensity (arb. units)</text>
<text x="351.2" y="23.0" font-size="12.40" fill="#222" text-anchor="start">b)</text>
<text x="525.3" y="20.2" font-size="10.80" fill="#222" text-anchor="middle">ITO</text>
<text x="425.5" y="45.8" font-size="9.80" fill="#222" text-anchor="middle">O 1s</text>
<text x="425.5" y="55.6" font-size="9.80" fill="#222" text-anchor="middle">(only FBI</text>
<text x="425.5" y="64.8" font-size="9.80" fill="#222" text-anchor="middle">contribution)</text>
<g fill="#7aa83a"><circle cx="381.5" cy="152.6" r="2.40"/><circle cx="442.3" cy="145.6" r="2.40"/><circle cx="583.1" cy="128.7" r="2.40"/><circle cx="592.7" cy="164.4" r="2.40"/><circle cx="608.7" cy="150.5" r="2.40"/><circle cx="621.5" cy="146.0" r="2.40"/><circle cx="567.1" cy="118.5" r="2.40"/><circle cx="572.9" cy="122.7" r="2.40"/><circle cx="570.3" cy="125.0" r="2.40"/><circle cx="575.5" cy="126.9" r="2.40"/><circle cx="563.9" cy="131.5" r="2.40"/><circle cx="581.0" cy="133.4" r="2.40"/><circle cx="585.8" cy="126.9" r="2.40"/><circle cx="588.4" cy="126.9" r="2.40"/><circle cx="599.4" cy="122.7" r="2.40"/><circle cx="596.1" cy="137.3" r="2.40"/><circle cx="601.9" cy="138.9" r="2.40"/><circle cx="605.8" cy="158.2" r="2.40"/><circle cx="612.3" cy="164.0" r="2.40"/><circle cx="615.5" cy="155.0" r="2.40"/><circle cx="618.7" cy="162.4" r="2.40"/><circle cx="623.9" cy="166.3" r="2.40"/><circle cx="628.4" cy="165.6" r="2.40"/><circle cx="384.0" cy="152.3" r="2.40"/><circle cx="389.7" cy="145.2" r="2.40"/><circle cx="393.1" cy="147.2" r="2.40"/><circle cx="396.1" cy="155.3" r="2.40"/><circle cx="399.2" cy="139.2" r="2.40"/><circle cx="402.6" cy="156.7" r="2.40"/><circle cx="406.2" cy="145.2" r="2.40"/><circle cx="409.2" cy="152.3" r="2.40"/><circle cx="412.3" cy="151.3" r="2.40"/><circle cx="415.3" cy="137.1" r="2.40"/><circle cx="418.3" cy="146.2" r="2.40"/><circle cx="421.9" cy="157.3" r="2.40"/><circle cx="424.8" cy="155.3" r="2.40"/><circle cx="428.4" cy="148.2" r="2.40"/><circle cx="431.4" cy="146.2" r="2.40"/><circle cx="434.8" cy="154.7" r="2.40"/><circle cx="438.5" cy="144.2" r="2.40"/><circle cx="445.1" cy="144.0" r="2.40"/><circle cx="448.5" cy="144.8" r="2.40"/><circle cx="450.5" cy="148.0" r="2.40"/><circle cx="467.3" cy="141.9" r="2.40"/><circle cx="470.3" cy="138.3" r="2.40"/><circle cx="473.9" cy="129.8" r="2.40"/><circle cx="477.3" cy="119.8" r="2.40"/><circle cx="480.0" cy="110.5" r="2.40"/><circle cx="483.4" cy="106.0" r="2.40"/><circle cx="496.5" cy="72.8" r="2.40"/><circle cx="493.1" cy="78.9" r="2.40"/><circle cx="486.3" cy="89.8" r="2.40"/><circle cx="488.7" cy="89.8" r="2.40"/><circle cx="505.7" cy="46.2" r="2.40"/><circle cx="522.1" cy="31.8" r="2.40"/><circle cx="509.0" cy="37.6" r="2.40"/><circle cx="512.4" cy="39.0" r="2.40"/><circle cx="505.9" cy="43.2" r="2.40"/><circle cx="518.7" cy="42.4" r="2.40"/><circle cx="515.6" cy="37.1" r="2.40"/><circle cx="525.3" cy="48.0" r="2.40"/><circle cx="528.9" cy="55.3" r="2.40"/><circle cx="531.8" cy="62.5" r="2.40"/><circle cx="535.0" cy="70.5" r="2.40"/><circle cx="538.1" cy="70.5" r="2.40"/><circle cx="541.5" cy="72.2" r="2.40"/><circle cx="502.3" cy="52.8" r="2.40"/><circle cx="498.6" cy="60.8" r="2.40"/><circle cx="544.8" cy="86.0" r="2.40"/><circle cx="554.0" cy="101.2" r="2.40"/><circle cx="548.0" cy="105.8" r="2.40"/><circle cx="551.4" cy="108.2" r="2.40"/><circle cx="557.5" cy="113.3" r="2.40"/><circle cx="560.5" cy="123.3" r="2.40"/><circle cx="631.6" cy="146.2" r="2.40"/><circle cx="629.2" cy="164.8" r="2.40"/><circle cx="634.8" cy="164.3" r="2.40"/><circle cx="638.2" cy="169.6" r="2.40"/><circle cx="644.5" cy="177.6" r="2.40"/><circle cx="641.3" cy="181.8" r="2.40"/><circle cx="647.9" cy="185.6" r="2.40"/><circle cx="651.0" cy="182.5" r="2.40"/><circle cx="654.2" cy="172.8" r="2.40"/><circle cx="660.7" cy="164.3" r="2.40"/><circle cx="664.3" cy="166.7" r="2.40"/><circle cx="667.2" cy="163.1" r="2.40"/><circle cx="658.3" cy="186.1" r="2.40"/><circle cx="454.1" cy="167.2" r="2.40"/><circle cx="456.7" cy="153.3" r="2.40"/><circle cx="461.5" cy="152.0" r="2.40"/><circle cx="464.6" cy="154.6" r="2.40"/><circle cx="468.6" cy="141.5" r="2.40"/></g>
<g fill="#3b75c6"><circle cx="493.5" cy="56.8" r="2.40"/><circle cx="544.7" cy="140.3" r="2.40"/><circle cx="547.9" cy="130.8" r="2.40"/><circle cx="551.1" cy="138.5" r="2.40"/><circle cx="557.5" cy="140.5" r="2.40"/><circle cx="595.9" cy="150.8" r="2.40"/><circle cx="624.7" cy="171.3" r="2.40"/><circle cx="653.5" cy="164.7" r="2.40"/><circle cx="561.6" cy="139.8" r="2.40"/><circle cx="567.1" cy="139.8" r="2.40"/><circle cx="571.3" cy="144.4" r="2.40"/><circle cx="576.8" cy="146.3" r="2.40"/><circle cx="581.9" cy="137.3" r="2.40"/><circle cx="580.0" cy="141.1" r="2.40"/><circle cx="589.0" cy="121.8" r="2.40"/><circle cx="592.3" cy="125.0" r="2.40"/><circle cx="598.7" cy="135.6" r="2.40"/><circle cx="602.6" cy="136.3" r="2.40"/><circle cx="605.8" cy="130.8" r="2.40"/><circle cx="573.5" cy="156.0" r="2.40"/><circle cx="563.9" cy="163.7" r="2.40"/><circle cx="586.5" cy="164.7" r="2.40"/><circle cx="613.2" cy="146.3" r="2.40"/><circle cx="616.5" cy="146.9" r="2.40"/><circle cx="618.7" cy="147.6" r="2.40"/><circle cx="608.4" cy="150.2" r="2.40"/><circle cx="621.9" cy="164.7" r="2.40"/><circle cx="627.1" cy="169.5" r="2.40"/><circle cx="628.4" cy="171.1" r="2.40"/><circle cx="381.0" cy="131.1" r="2.40"/><circle cx="383.0" cy="150.2" r="2.40"/><circle cx="387.1" cy="143.8" r="2.40"/><circle cx="389.7" cy="155.9" r="2.40"/><circle cx="392.5" cy="142.2" r="2.40"/><circle cx="395.1" cy="146.2" r="2.40"/><circle cx="398.5" cy="144.6" r="2.40"/><circle cx="400.2" cy="146.2" r="2.40"/><circle cx="403.2" cy="151.9" r="2.40"/><circle cx="405.8" cy="146.2" r="2.40"/><circle cx="409.2" cy="156.7" r="2.40"/><circle cx="412.3" cy="160.3" r="2.40"/><circle cx="415.9" cy="157.3" r="2.40"/><circle cx="418.7" cy="151.9" r="2.40"/><circle cx="421.9" cy="139.2" r="2.40"/><circle cx="425.4" cy="161.3" r="2.40"/><circle cx="428.4" cy="137.7" r="2.40"/><circle cx="432.0" cy="146.2" r="2.40"/><circle cx="434.8" cy="134.5" r="2.40"/><circle cx="438.5" cy="132.1" r="2.40"/><circle cx="441.0" cy="135.9" r="2.40"/><circle cx="444.5" cy="125.8" r="2.40"/><circle cx="448.1" cy="124.2" r="2.40"/><circle cx="451.1" cy="111.7" r="2.40"/><circle cx="454.1" cy="119.2" r="2.40"/><circle cx="457.8" cy="109.7" r="2.40"/><circle cx="460.6" cy="108.5" r="2.40"/><circle cx="480.3" cy="54.2" r="2.40"/><circle cx="483.4" cy="52.3" r="2.40"/><circle cx="486.3" cy="55.9" r="2.40"/><circle cx="499.6" cy="54.2" r="2.40"/><circle cx="490.0" cy="63.9" r="2.40"/><circle cx="473.0" cy="75.3" r="2.40"/><circle cx="476.6" cy="83.3" r="2.40"/><circle cx="469.9" cy="85.0" r="2.40"/><circle cx="464.5" cy="88.1" r="2.40"/><circle cx="467.0" cy="89.8" r="2.40"/><circle cx="499.4" cy="54.1" r="2.40"/><circle cx="496.2" cy="63.7" r="2.40"/><circle cx="503.5" cy="65.0" r="2.40"/><circle cx="505.9" cy="76.3" r="2.40"/><circle cx="512.4" cy="83.1" r="2.40"/><circle cx="512.5" cy="83.6" r="2.40"/><circle cx="515.7" cy="94.5" r="2.40"/><circle cx="518.5" cy="94.5" r="2.40"/><circle cx="528.2" cy="100.6" r="2.40"/><circle cx="509.1" cy="108.2" r="2.40"/><circle cx="524.6" cy="109.2" r="2.40"/><circle cx="538.3" cy="112.7" r="2.40"/><circle cx="541.3" cy="111.3" r="2.40"/><circle cx="522.2" cy="124.0" r="2.40"/><circle cx="531.9" cy="122.3" r="2.40"/><circle cx="535.9" cy="128.0" r="2.40"/><circle cx="554.0" cy="129.4" r="2.40"/><circle cx="635.3" cy="143.0" r="2.40"/><circle cx="631.6" cy="156.6" r="2.40"/><circle cx="641.3" cy="162.4" r="2.40"/><circle cx="629.2" cy="169.2" r="2.40"/><circle cx="651.0" cy="168.0" r="2.40"/><circle cx="657.0" cy="172.8" r="2.40"/><circle cx="647.9" cy="154.6" r="2.40"/><circle cx="660.7" cy="155.8" r="2.40"/><circle cx="663.8" cy="161.9" r="2.40"/><circle cx="667.2" cy="157.5" r="2.40"/><circle cx="669.6" cy="146.2" r="2.40"/><circle cx="638.2" cy="177.6" r="2.40"/><circle cx="644.6" cy="203.3" r="2.40"/></g>
<path d="M381.00,152.11 L382.00,152.08 L383.00,152.05 L384.00,152.01 L385.00,151.97 L386.00,151.93 L387.00,151.89 L388.00,151.84 L389.00,151.79 L390.00,151.74 L391.00,151.69 L392.00,151.63 L393.00,151.58 L394.00,151.53 L395.00,151.49 L396.00,151.45 L397.00,151.41 L398.00,151.38 L399.00,151.35 L400.00,151.32 L401.00,151.29 L402.00,151.25 L403.00,151.21 L404.00,151.17 L405.00,151.12 L406.00,151.08 L407.00,151.03 L408.00,150.97 L409.00,150.92 L410.00,150.86 L411.00,150.80 L412.00,150.73 L413.00,150.66 L414.00,150.59 L415.00,150.52 L416.00,150.44 L417.00,150.36 L418.00,150.27 L419.00,150.18 L420.00,150.09 L421.00,149.99 L422.00,149.88 L423.00,149.77 L424.00,149.66 L425.00,149.53 L426.00,149.41 L427.00,149.28 L428.00,149.14 L429.00,149.00 L430.00,148.86 L431.00,148.72 L432.00,148.57 L433.00,148.43 L434.00,148.28 L435.00,148.13 L436.00,147.98 L437.00,147.83 L438.00,147.67 L439.00,147.50 L440.00,147.33 L441.00,147.15 L442.00,146.95 L443.00,146.75 L444.00,146.53 L445.00,146.29 L446.00,146.02 L447.00,145.73 L448.00,145.41 L449.00,145.06 L450.00,144.68 L451.00,144.27 L452.00,143.82 L453.00,143.35 L454.00,142.85 L455.00,142.32 L456.00,141.77 L457.00,141.20 L458.00,140.60 L459.00,139.99 L460.00,139.36 L461.00,138.71 L462.00,138.03 L463.00,137.31 L464.00,136.55 L465.00,135.73 L466.00,134.85 L467.00,133.90 L468.00,132.87 L469.00,131.76 L470.00,130.57 L471.00,129.30 L472.00,127.94 L473.00,126.50 L474.00,124.96 L475.00,123.34 L476.00,121.63 L477.00,119.82 L478.00,117.93 L479.00,115.96 L480.00,113.89 L481.00,111.74 L482.00,109.51 L483.00,107.20 L484.00,104.81 L485.00,102.34 L486.00,99.80 L487.00,97.19 L488.00,94.52 L489.00,91.78 L490.00,88.99 L491.00,86.16 L492.00,83.29 L493.00,80.39 L494.00,77.47 L495.00,74.54 L496.00,71.62 L497.00,68.71 L498.00,65.83 L499.00,62.99 L500.00,60.20 L501.00,57.49 L502.00,54.86 L503.00,52.33 L504.00,49.92 L505.00,47.65 L506.00,45.53 L507.00,43.58 L508.00,41.81 L509.00,40.24 L510.00,38.88 L511.00,37.74 L512.00,36.85 L513.00,36.20 L514.00,35.81 L515.00,35.67 L516.00,35.76 L517.00,36.04 L518.00,36.54 L519.00,37.24 L520.00,38.14 L521.00,39.24 L522.00,40.54 L523.00,42.02 L524.00,43.68 L525.00,45.50 L526.00,47.46 L527.00,49.55 L528.00,51.75 L529.00,54.04 L530.00,56.40 L531.00,58.81 L532.00,61.25 L533.00,63.72 L534.00,66.21 L535.00,68.69 L536.00,71.16 L537.00,73.62 L538.00,76.07 L539.00,78.48 L540.00,80.87 L541.00,83.24 L542.00,85.57 L543.00,87.88 L544.00,90.16 L545.00,92.41 L546.00,94.63 L547.00,96.84 L548.00,99.01 L549.00,101.16 L550.00,103.27 L551.00,105.35 L552.00,107.39 L553.00,109.39 L554.00,111.35 L555.00,113.25 L556.00,115.10 L557.00,116.90 L558.00,118.64 L559.00,120.31 L560.00,121.92 L561.00,123.47 L562.00,124.94 L563.00,126.33 L564.00,127.64 L565.00,128.87 L566.00,130.01 L567.00,131.07 L568.00,132.04 L569.00,132.93 L570.00,133.75 L571.00,134.50 L572.00,135.21 L573.00,135.88 L574.00,136.51 L575.00,137.12 L576.00,137.71 L577.00,138.27 L578.00,138.81 L579.00,139.32 L580.00,139.81 L581.00,140.28 L582.00,140.72 L583.00,141.13 L584.00,141.52 L585.00,141.89 L586.00,142.23 L587.00,142.56 L588.00,142.87 L589.00,143.16 L590.00,143.45 L591.00,143.72 L592.00,143.98 L593.00,144.23 L594.00,144.47 L595.00,144.71 L596.00,144.93 L597.00,145.16 L598.00,145.38 L599.00,145.59 L600.00,145.79 L601.00,145.99 L602.00,146.18 L603.00,146.35 L604.00,146.51 L605.00,146.66 L606.00,146.80 L607.00,146.93 L608.00,147.06 L609.00,147.18 L610.00,147.29 L611.00,147.40 L612.00,147.51 L613.00,147.61 L614.00,147.71 L615.00,147.80 L616.00,147.89 L617.00,147.98 L618.00,148.07 L619.00,148.15 L620.00,148.23 L621.00,148.30 L622.00,148.38 L623.00,148.45 L624.00,148.52 L625.00,148.59 L626.00,148.65 L627.00,148.72 L628.00,148.79 L629.00,148.85 L630.00,148.92 L631.00,148.99 L632.00,149.06 L633.00,149.13 L634.00,149.21 L635.00,149.28 L636.00,149.36 L637.00,149.43 L638.00,149.50 L639.00,149.56 L640.00,149.62 L641.00,149.68 L642.00,149.73 L643.00,149.78 L644.00,149.82 L645.00,149.86 L646.00,149.91 L647.00,149.94 L648.00,149.98 L649.00,150.02 L650.00,150.05 L651.00,150.08 L652.00,150.11 L653.00,150.14 L654.00,150.16 L655.00,150.19 L656.00,150.21 L657.00,150.24 L658.00,150.27 L659.00,150.30 L660.00,150.34 L661.00,150.38 L662.00,150.42 L663.00,150.46 L664.00,150.49 L665.00,150.53 L666.00,150.56 L667.00,150.59 L668.00,150.62 L669.00,150.65 L670.00,150.67" fill="none" stroke="#7aa83a" stroke-width="2.6" stroke-linejoin="round"/>
<path d="M381.00,149.60 L382.00,149.51 L383.00,149.42 L384.00,149.32 L385.00,149.22 L386.00,149.10 L387.00,148.98 L388.00,148.84 L389.00,148.70 L390.00,148.54 L391.00,148.38 L392.00,148.21 L393.00,148.03 L394.00,147.85 L395.00,147.67 L396.00,147.49 L397.00,147.31 L398.00,147.13 L399.00,146.94 L400.00,146.76 L401.00,146.57 L402.00,146.39 L403.00,146.20 L404.00,146.02 L405.00,145.83 L406.00,145.63 L407.00,145.44 L408.00,145.23 L409.00,145.02 L410.00,144.80 L411.00,144.58 L412.00,144.34 L413.00,144.10 L414.00,143.84 L415.00,143.58 L416.00,143.32 L417.00,143.04 L418.00,142.77 L419.00,142.49 L420.00,142.21 L421.00,141.92 L422.00,141.63 L423.00,141.32 L424.00,141.01 L425.00,140.67 L426.00,140.30 L427.00,139.89 L428.00,139.44 L429.00,138.95 L430.00,138.40 L431.00,137.80 L432.00,137.15 L433.00,136.45 L434.00,135.71 L435.00,134.93 L436.00,134.12 L437.00,133.28 L438.00,132.41 L439.00,131.53 L440.00,130.63 L441.00,129.70 L442.00,128.76 L443.00,127.80 L444.00,126.81 L445.00,125.79 L446.00,124.75 L447.00,123.67 L448.00,122.55 L449.00,121.39 L450.00,120.20 L451.00,118.95 L452.00,117.65 L453.00,116.30 L454.00,114.89 L455.00,113.41 L456.00,111.86 L457.00,110.25 L458.00,108.57 L459.00,106.83 L460.00,105.02 L461.00,103.16 L462.00,101.25 L463.00,99.30 L464.00,97.30 L465.00,95.27 L466.00,93.21 L467.00,91.13 L468.00,89.04 L469.00,86.95 L470.00,84.85 L471.00,82.77 L472.00,80.71 L473.00,78.69 L474.00,76.70 L475.00,74.77 L476.00,72.90 L477.00,71.10 L478.00,69.37 L479.00,67.73 L480.00,66.18 L481.00,64.73 L482.00,63.40 L483.00,62.18 L484.00,61.09 L485.00,60.14 L486.00,59.32 L487.00,58.65 L488.00,58.14 L489.00,57.78 L490.00,57.58 L491.00,57.54 L492.00,57.66 L493.00,57.95 L494.00,58.39 L495.00,58.99 L496.00,59.74 L497.00,60.63 L498.00,61.66 L499.00,62.83 L500.00,64.12 L501.00,65.52 L502.00,67.04 L503.00,68.65 L504.00,70.36 L505.00,72.13 L506.00,73.98 L507.00,75.88 L508.00,77.82 L509.00,79.79 L510.00,81.79 L511.00,83.81 L512.00,85.84 L513.00,87.87 L514.00,89.90 L515.00,91.93 L516.00,93.94 L517.00,95.94 L518.00,97.92 L519.00,99.88 L520.00,101.80 L521.00,103.69 L522.00,105.55 L523.00,107.35 L524.00,109.11 L525.00,110.82 L526.00,112.48 L527.00,114.08 L528.00,115.62 L529.00,117.10 L530.00,118.53 L531.00,119.90 L532.00,121.21 L533.00,122.47 L534.00,123.67 L535.00,124.82 L536.00,125.91 L537.00,126.96 L538.00,127.96 L539.00,128.92 L540.00,129.83 L541.00,130.70 L542.00,131.52 L543.00,132.32 L544.00,133.07 L545.00,133.80 L546.00,134.49 L547.00,135.15 L548.00,135.78 L549.00,136.39 L550.00,136.97 L551.00,137.52 L552.00,138.05 L553.00,138.56 L554.00,139.04 L555.00,139.50 L556.00,139.95 L557.00,140.37 L558.00,140.77 L559.00,141.15 L560.00,141.52 L561.00,141.87 L562.00,142.21 L563.00,142.53 L564.00,142.84 L565.00,143.13 L566.00,143.41 L567.00,143.68 L568.00,143.95 L569.00,144.20 L570.00,144.44 L571.00,144.67 L572.00,144.89 L573.00,145.10 L574.00,145.30 L575.00,145.49 L576.00,145.67 L577.00,145.84 L578.00,145.99 L579.00,146.14 L580.00,146.27 L581.00,146.39 L582.00,146.50 L583.00,146.60 L584.00,146.70 L585.00,146.78 L586.00,146.87 L587.00,146.95 L588.00,147.04 L589.00,147.13 L590.00,147.22 L591.00,147.31 L592.00,147.40 L593.00,147.50 L594.00,147.59 L595.00,147.68 L596.00,147.77 L597.00,147.86 L598.00,147.95 L599.00,148.04 L600.00,148.13 L601.00,148.23 L602.00,148.32 L603.00,148.41 L604.00,148.50 L605.00,148.59 L606.00,148.67 L607.00,148.75 L608.00,148.82 L609.00,148.89 L610.00,148.95 L611.00,149.00 L612.00,149.05 L613.00,149.10 L614.00,149.14 L615.00,149.19 L616.00,149.23 L617.00,149.27 L618.00,149.32 L619.00,149.36 L620.00,149.40 L621.00,149.45 L622.00,149.49 L623.00,149.53 L624.00,149.58 L625.00,149.62 L626.00,149.66 L627.00,149.70 L628.00,149.75 L629.00,149.79 L630.00,149.83 L631.00,149.88 L632.00,149.92 L633.00,149.96 L634.00,150.01 L635.00,150.05 L636.00,150.10 L637.00,150.14 L638.00,150.18 L639.00,150.23 L640.00,150.26 L641.00,150.30 L642.00,150.33 L643.00,150.37 L644.00,150.40 L645.00,150.43 L646.00,150.46 L647.00,150.49 L648.00,150.51 L649.00,150.54 L650.00,150.57 L651.00,150.60 L652.00,150.63 L653.00,150.66 L654.00,150.70 L655.00,150.73 L656.00,150.78 L657.00,150.82 L658.00,150.87 L659.00,150.91 L660.00,150.96 L661.00,151.01 L662.00,151.05 L663.00,151.09 L664.00,151.12 L665.00,151.15 L666.00,151.18 L667.00,151.21 L668.00,151.23 L669.00,151.25 L670.00,151.27" fill="none" stroke="#3b75c6" stroke-width="2.6" stroke-linejoin="round"/>
<text x="396.0" y="195.5" font-size="12.10" fill="#222" text-anchor="start"><tspan fill="#80a845">FBI 0.7 ML</tspan> + <tspan fill="#4a7fcc">BaCl<tspan font-size="8.0" dy="1.6">2</tspan><tspan dy="-1.6">, θ</tspan><tspan font-size="8.0" dy="1.6">Ba</tspan><tspan dy="-1.6"> = 17.5</tspan></tspan></text>
<rect x="560.6" y="2.2" width="124" height="89.8" fill="#fff"/>
<line x1="560.6" y1="2.2" x2="560.6" y2="92.3" stroke="#8a8a8a" stroke-width="1.2"/>
<line x1="560.6" y1="2.4" x2="685" y2="2.4" stroke="#999" stroke-width="1.1"/>
<line x1="684.3" y1="2.2" x2="684.3" y2="92" stroke="#6a6a6a" stroke-width="1.2"/>
<line x1="560.6" y1="92.1" x2="685" y2="92.1" stroke="#8a8a8a" stroke-width="1"/>
<line x1="571.7" y1="92" x2="571.7" y2="94.6" stroke="#606060" stroke-width="0.9"/>
<text x="571.7" y="103.0" font-size="9.30" fill="#222" text-anchor="middle" textLength="20.6" lengthAdjust="spacingAndGlyphs">537.5</text>
<line x1="578.1" y1="92" x2="578.1" y2="93.6" stroke="#909090" stroke-width="0.7"/>
<line x1="584.5" y1="92" x2="584.5" y2="93.6" stroke="#909090" stroke-width="0.7"/>
<line x1="590.9" y1="92" x2="590.9" y2="93.6" stroke="#909090" stroke-width="0.7"/>
<line x1="597.3" y1="92" x2="597.3" y2="94.6" stroke="#606060" stroke-width="0.9"/>
<text x="597.3" y="103.0" font-size="9.30" fill="#222" text-anchor="middle" textLength="20.6" lengthAdjust="spacingAndGlyphs">535.0</text>
<line x1="603.7" y1="92" x2="603.7" y2="93.6" stroke="#909090" stroke-width="0.7"/>
<line x1="610.1" y1="92" x2="610.1" y2="93.6" stroke="#909090" stroke-width="0.7"/>
<line x1="616.5" y1="92" x2="616.5" y2="93.6" stroke="#909090" stroke-width="0.7"/>
<line x1="622.9" y1="92" x2="622.9" y2="94.6" stroke="#606060" stroke-width="0.9"/>
<text x="622.9" y="103.0" font-size="9.30" fill="#222" text-anchor="middle" textLength="20.6" lengthAdjust="spacingAndGlyphs">532.5</text>
<line x1="629.3" y1="92" x2="629.3" y2="93.6" stroke="#909090" stroke-width="0.7"/>
<line x1="635.7" y1="92" x2="635.7" y2="93.6" stroke="#909090" stroke-width="0.7"/>
<line x1="642.1" y1="92" x2="642.1" y2="93.6" stroke="#909090" stroke-width="0.7"/>
<line x1="648.5" y1="92" x2="648.5" y2="94.6" stroke="#606060" stroke-width="0.9"/>
<text x="648.5" y="103.0" font-size="9.30" fill="#222" text-anchor="middle" textLength="20.6" lengthAdjust="spacingAndGlyphs">530.0</text>
<line x1="654.9" y1="92" x2="654.9" y2="93.6" stroke="#909090" stroke-width="0.7"/>
<line x1="661.3" y1="92" x2="661.3" y2="93.6" stroke="#909090" stroke-width="0.7"/>
<line x1="667.7" y1="92" x2="667.7" y2="93.6" stroke="#909090" stroke-width="0.7"/>
<line x1="674.1" y1="92" x2="674.1" y2="94.6" stroke="#606060" stroke-width="0.9"/>
<text x="674.1" y="103.0" font-size="9.30" fill="#222" text-anchor="middle" textLength="20.6" lengthAdjust="spacingAndGlyphs">527.5</text>
<line x1="680.5" y1="92" x2="680.5" y2="93.6" stroke="#909090" stroke-width="0.7"/>
<rect x="564.5" y="6" width="62" height="34.5" fill="#fff" stroke="#f2f2f2" stroke-width="0.8"/>
<line x1="567.2" y1="11.7" x2="583.2" y2="11.7" stroke="#a3c978" stroke-width="1.8"/>
<line x1="567.2" y1="22.7" x2="583.2" y2="22.7" stroke="#4a86d0" stroke-width="1.8"/>
<line x1="567.2" y1="33.7" x2="583.2" y2="33.7" stroke="#dc6c74" stroke-width="1.8"/>
<text x="589.6" y="14.8" font-size="8.20" fill="#222" text-anchor="start">FBI</text>
<text x="589.6" y="25.8" font-size="8.20" fill="#222" text-anchor="start">FBI-BaCl<tspan font-size="6.2" dy="1.6">2</tspan></text>
<text x="589.6" y="36.8" font-size="8.20" fill="#222" text-anchor="start">ITO clean</text>
<path d="M567.0,87.3 L568.0,88.1 L569.0,87.9 L570.0,87.8 L571.0,88.5 L572.0,88.1 L573.0,87.9 L574.0,88.8 L575.0,87.8 L576.0,87.5 L577.0,87.4 L578.0,87.8 L579.0,88.3 L580.0,88.3 L581.0,88.4 L582.0,88.7 L583.0,88.6 L584.0,88.0 L585.0,88.2 L586.0,87.8 L587.0,87.0 L588.0,87.4 L589.0,86.8 L590.0,86.4 L591.0,87.1 L592.0,86.3 L593.0,85.4 L594.0,85.2 L595.0,86.0 L596.0,84.5 L597.0,84.6 L598.0,84.2 L599.0,83.7 L600.0,83.4 L601.0,82.5 L602.0,82.2 L603.0,81.9 L604.0,81.4 L605.0,81.5 L606.0,81.4 L607.0,79.9 L608.0,80.1 L609.0,79.0 L610.0,78.6 L611.0,78.3 L612.0,78.0 L613.0,77.3 L614.0,75.7 L615.0,76.8 L616.0,75.3 L617.0,74.2 L618.0,73.7 L619.0,71.4 L620.0,68.9 L621.0,67.9 L622.0,65.9 L623.0,62.8 L624.0,60.9 L625.0,57.9 L626.0,54.4 L627.0,53.1 L628.0,49.5 L629.0,45.3 L630.0,41.3 L631.0,35.2 L632.0,29.3 L633.0,23.0 L634.0,19.8 L635.0,16.1 L636.0,12.7 L637.0,10.2 L638.0,8.9 L639.0,7.4 L640.0,6.4 L641.0,6.2 L642.0,8.0 L643.0,9.5 L644.0,11.6 L645.0,15.1 L646.0,18.9 L647.0,22.0 L648.0,31.2 L649.0,40.3 L650.0,49.4 L651.0,55.6 L652.0,60.9 L653.0,63.7 L654.0,67.2 L655.0,69.6 L656.0,71.1 L657.0,74.7 L658.0,76.8 L659.0,79.0 L660.0,80.2 L661.0,81.9 L662.0,82.8 L663.0,84.1 L664.0,84.2 L665.0,86.2 L666.0,84.9 L667.0,85.4 L668.0,85.9 L669.0,85.9 L670.0,87.1 L671.0,86.9 L672.0,86.2 L673.0,87.0 L674.0,87.6 L675.0,86.5 L676.0,87.3 L677.0,87.3 L678.0,88.5 L679.0,87.7" fill="none" stroke="#6fae3c" stroke-width="1.0" stroke-linejoin="round"/>
<path d="M567.0,87.5 L568.0,88.5 L569.0,87.1 L570.0,86.5 L571.0,87.8 L572.0,88.0 L573.0,87.8 L574.0,87.8 L575.0,87.4 L576.0,87.0 L577.0,86.9 L578.0,87.1 L579.0,86.8 L580.0,87.4 L581.0,87.0 L582.0,85.7 L583.0,86.6 L584.0,85.9 L585.0,86.3 L586.0,86.2 L587.0,85.3 L588.0,83.5 L589.0,84.4 L590.0,82.4 L591.0,83.6 L592.0,81.7 L593.0,81.4 L594.0,82.0 L595.0,79.2 L596.0,79.9 L597.0,78.8 L598.0,78.9 L599.0,78.6 L600.0,79.3 L601.0,78.6 L602.0,78.9 L603.0,79.0 L604.0,77.5 L605.0,79.3 L606.0,78.2 L607.0,77.2 L608.0,77.7 L609.0,78.5 L610.0,78.4 L611.0,77.2 L612.0,77.4 L613.0,77.1 L614.0,77.2 L615.0,75.9 L616.0,75.9 L617.0,73.9 L618.0,73.0 L619.0,72.2 L620.0,70.0 L621.0,67.7 L622.0,66.1 L623.0,63.4 L624.0,61.0 L625.0,58.5 L626.0,55.3 L627.0,52.8 L628.0,49.2 L629.0,45.6 L630.0,39.7 L631.0,35.4 L632.0,29.0 L633.0,24.0 L634.0,18.2 L635.0,15.5 L636.0,12.1 L637.0,8.8 L638.0,8.9 L639.0,7.8 L640.0,5.6 L641.0,6.9 L642.0,8.6 L643.0,8.3 L644.0,12.1 L645.0,16.0 L646.0,19.8 L647.0,22.4 L648.0,30.5 L649.0,41.6 L650.0,50.1 L651.0,54.4 L652.0,59.6 L653.0,63.3 L654.0,67.7 L655.0,69.4 L656.0,72.5 L657.0,74.8 L658.0,77.6 L659.0,79.3 L660.0,80.9 L661.0,82.6 L662.0,83.1 L663.0,82.8 L664.0,83.8 L665.0,85.2 L666.0,85.2 L667.0,85.4 L668.0,86.1 L669.0,88.3 L670.0,86.5 L671.0,87.0 L672.0,87.2 L673.0,86.9 L674.0,87.9 L675.0,87.8 L676.0,87.6 L677.0,86.6 L678.0,88.3 L679.0,88.0" fill="none" stroke="#3c82cc" stroke-width="1.1" stroke-linejoin="round"/>
<path d="M567.0,86.7 L568.0,87.5 L569.0,87.8 L570.0,87.1 L571.0,86.7 L572.0,87.3 L573.0,87.6 L574.0,87.9 L575.0,86.8 L576.0,86.8 L577.0,87.7 L578.0,87.6 L579.0,88.1 L580.0,87.8 L581.0,87.4 L582.0,87.3 L583.0,88.6 L584.0,87.3 L585.0,87.0 L586.0,86.9 L587.0,87.4 L588.0,87.4 L589.0,87.1 L590.0,87.2 L591.0,87.2 L592.0,87.3 L593.0,87.2 L594.0,86.6 L595.0,85.5 L596.0,86.4 L597.0,85.3 L598.0,85.7 L599.0,85.0 L600.0,85.5 L601.0,85.1 L602.0,85.4 L603.0,86.6 L604.0,84.8 L605.0,84.9 L606.0,83.6 L607.0,83.7 L608.0,83.8 L609.0,83.0 L610.0,82.7 L611.0,82.0 L612.0,80.9 L613.0,80.9 L614.0,79.3 L615.0,79.2 L616.0,76.6 L617.0,75.4 L618.0,73.3 L619.0,71.8 L620.0,69.2 L621.0,68.2 L622.0,65.6 L623.0,63.8 L624.0,60.8 L625.0,57.7 L626.0,54.6 L627.0,52.6 L628.0,49.6 L629.0,46.6 L630.0,40.9 L631.0,35.3 L632.0,29.1 L633.0,23.7 L634.0,19.4 L635.0,15.8 L636.0,12.1 L637.0,9.4 L638.0,8.1 L639.0,7.3 L640.0,7.0 L641.0,7.0 L642.0,7.9 L643.0,9.3 L644.0,11.8 L645.0,15.1 L646.0,18.9 L647.0,23.9 L648.0,30.9 L649.0,41.1 L650.0,50.2 L651.0,55.2 L652.0,60.4 L653.0,64.3 L654.0,66.5 L655.0,70.7 L656.0,72.9 L657.0,74.5 L658.0,77.1 L659.0,79.0 L660.0,80.2 L661.0,81.8 L662.0,82.9 L663.0,84.0 L664.0,84.4 L665.0,84.6 L666.0,85.7 L667.0,85.2 L668.0,86.3 L669.0,86.7 L670.0,86.3 L671.0,85.8 L672.0,86.4 L673.0,87.1 L674.0,87.3 L675.0,87.9 L676.0,86.8 L677.0,87.3 L678.0,87.7 L679.0,87.4" fill="none" stroke="#d8545e" stroke-width="1.1" stroke-linejoin="round"/>
<ellipse cx="591" cy="81.9" rx="28.4" ry="10.5" fill="rgb(150,208,108)" fill-opacity="0.4" stroke="none"/>
<ellipse cx="591" cy="81.9" rx="28.4" ry="10.5" fill="none" stroke="#e8352b" stroke-width="2.4"/>
<text x="564.4" y="55.1" font-size="11.00" fill="#222" text-anchor="start">O<tspan font-size="7.2" dy="0.4">FBI</tspan></text>
<line x1="582.2" y1="59.2" x2="588" y2="64.8" stroke="#111" stroke-width="2.4"/>
<polygon points="592.7,69.9 584.5,66.8 590.9,61.9" fill="#111"/>
</svg></body></html>
